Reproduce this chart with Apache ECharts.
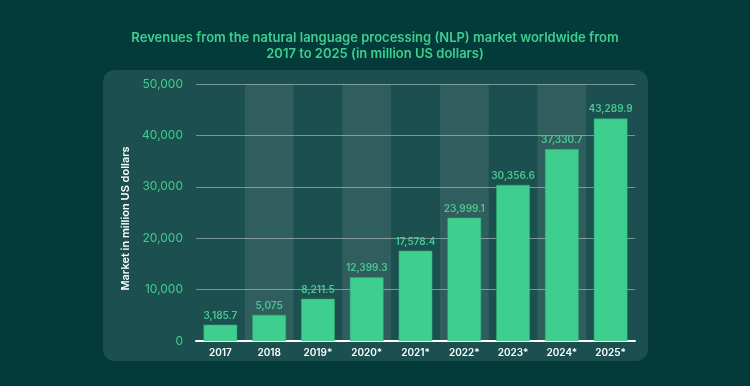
<!DOCTYPE html>
<html>
<head>
<meta charset="utf-8">
<script src="https://cdn.jsdelivr.net/npm/echarts@6/dist/echarts.min.js"></script>
<style>
html,body{margin:0;padding:0;background:#033a3a;}
#chart{width:750px;height:386px;}
</style>
</head>
<body>
<div id="chart"></div>
<script>
const categories = ['2017','2018','2019*','2020*','2021*','2022*','2023*','2024*','2025*'];
const revenues = [3185.7, 5075, 8211.5, 12399.3, 17578.4, 23999.1, 30356.6, 37330.7, 43289.9];
const yTicks = [0, 10000, 20000, 30000, 40000, 50000];
const titleText = 'Revenues from the natural language processing (NLP) market worldwide from\n2017 to 2025 (in million US dollars)';
const yAxisName = 'Market in million US dollars';

const fmt = v => v.toLocaleString('en-US', {maximumFractionDigits: 1});
const chart = echarts.init(document.getElementById('chart'));
chart.setOption({
  backgroundColor: '#033a3a',
  animation: false,
  textStyle: {fontFamily: 'Inter'},
  title: {
    text: titleText,
    left: 'center',
    top: 25,
    textStyle: {color: '#3ecf8e', fontSize: 13, fontWeight: 600, lineHeight: 16, fontFamily: 'Inter'}
  },
  graphic: [{
    type: 'rect', z: -10, silent: true,
    shape: {x: 103, y: 70, width: 545, height: 291, r: 12},
    style: {fill: '#1c4f4f'}
  }],
  grid: {left: 196, right: 115, top: 84, bottom: 45},
  xAxis: {
    type: 'category',
    data: categories,
    axisLine: {show: true, lineStyle: {color: '#ffffff', width: 2}},
    axisTick: {show: false},
    axisLabel: {color: '#ffffff', fontSize: 10, fontWeight: 600, margin: 7},
    splitArea: {show: true, areaStyle: {color: ['rgba(255,255,255,0)', 'rgba(255,255,255,0.09)']}}
  },
  yAxis: {
    type: 'value',
    min: yTicks[0],
    max: yTicks[yTicks.length - 1],
    interval: 10000,
    name: yAxisName,
    nameLocation: 'middle',
    nameRotate: 90,
    nameGap: 62,
    nameTextStyle: {color: '#ffffff', fontSize: 11, fontWeight: 600, padding: [0, 12, 0, 0]},
    axisLine: {show: false},
    axisTick: {show: false},
    axisLabel: {color: '#3ecf8e', fontSize: 12, margin: 13, formatter: v => fmt(v)},
    splitLine: {lineStyle: {color: 'rgba(255,255,255,0.4)', width: 1}}
  },
  series: [{
    type: 'bar',
    data: revenues,
    barWidth: '69%',
    itemStyle: {color: '#3ecf8e', borderColor: '#2fa874', borderWidth: 0.5},
    label: {
      show: true, position: 'top', distance: 4,
      color: '#48c98f', fontSize: 10, fontWeight: 600,
      formatter: p => fmt(p.value)
    }
  }]
});
</script>
</body>
</html>
